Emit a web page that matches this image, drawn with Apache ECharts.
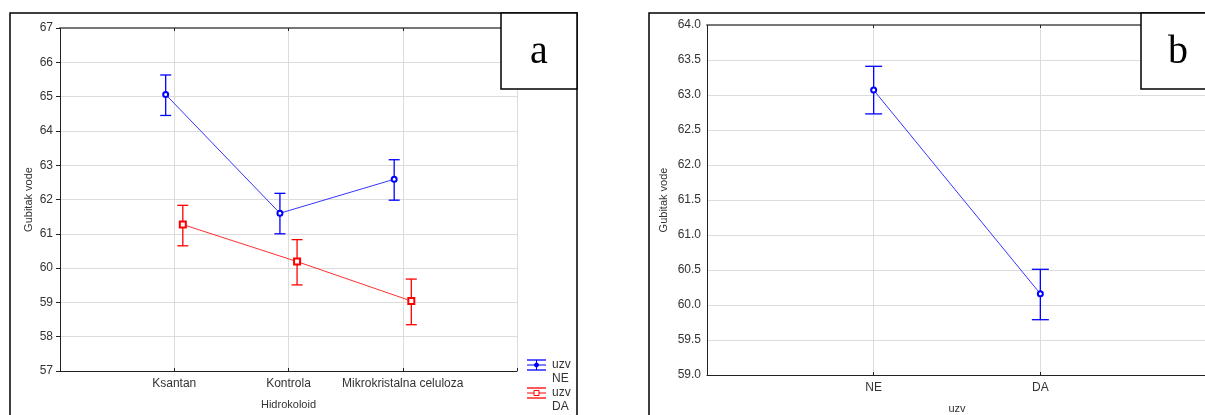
<!DOCTYPE html>
<html>
<head>
<meta charset="utf-8">
<script src="https://cdn.jsdelivr.net/npm/echarts@6/dist/echarts.min.js"></script>
<style>
  html, body { margin: 0; padding: 0; background: #fff; }
  #chart { width: 1205px; height: 415px; }
</style>
</head>
<body>
<div id="chart"></div>
<script>
// panel a: Gubitak vode by Hidrokoloid, split by uzv
const hidroCats = ['Ksantan', 'Kontrola', 'Mikrokristalna celuloza'];
const neMean = [65.06, 61.60, 62.59];
const neLow = [64.45, 61.00, 61.98];
const neHigh = [65.63, 62.18, 63.16];
const daMean = [61.27, 60.19, 59.04];
const daLow = [60.65, 59.51, 58.35];
const daHigh = [61.83, 60.83, 59.68];

// panel b: Gubitak vode by uzv
const uzvCats = ['NE', 'DA'];
const uzvMean = [63.07, 60.16];
const uzvLow = [62.73, 59.79];
const uzvHigh = [63.41, 60.51];

const FONT = "'Liberation Sans', Arial, sans-serif";
const BLUE = '#0000ff';
const RED = '#ff0000';
const shift = 0.075; // horizontal dodge of the two groups in panel a

function errorBars(xIdx, yIdx, xs, low, high, color, capW) {
  return {
    type: 'custom',
    xAxisIndex: xIdx,
    yAxisIndex: yIdx,
    data: xs.map((x, i) => [x, low[i], high[i]]),
    renderItem: function (params, api) {
      const top = api.coord([api.value(0), api.value(2)]);
      const bot = api.coord([api.value(0), api.value(1)]);
      const h = capW / 2;
      const st = { stroke: color, lineWidth: 1.3 };
      return {
        type: 'group',
        children: [
          { type: 'line', shape: { x1: top[0], y1: top[1], x2: bot[0], y2: bot[1] }, style: st },
          { type: 'line', shape: { x1: top[0] - h, y1: top[1], x2: top[0] + h, y2: top[1] }, style: st },
          { type: 'line', shape: { x1: bot[0] - h, y1: bot[1], x2: bot[0] + h, y2: bot[1] }, style: st }
        ]
      };
    },
    z: 3
  };
}

const chart = echarts.init(document.getElementById('chart'));

const labelStyle = { color: '#333', fontSize: 12, fontFamily: FONT };
const nameStyle = { color: '#333', fontSize: 11, fontFamily: FONT };
const gridLine = { show: true, lineStyle: { color: '#dcdcdc', width: 1 } };
const darkLine = { show: true, lineStyle: { color: '#222', width: 1 } };
const topLine = { show: true, lineStyle: { color: '#777', width: 2 } };
const inTick = { show: true, inside: true, length: 3, lineStyle: { color: '#222' } };

const xsA = hidroCats.map((c, i) => i + 1);
const xsB = uzvCats.map((c, i) => i + 1);

const option = {
  animation: false,
  backgroundColor: '#fff',
  grid: [
    { left: 60, top: 28, width: 457, height: 343, outerBoundsMode: 'none' },
    { left: 707, top: 25, width: 500, height: 350, outerBoundsMode: 'none' }
  ],
  xAxis: [
    {
      gridIndex: 0, type: 'value', min: 0, max: 4, interval: 1, position: 'bottom',
      axisLine: darkLine, axisTick: inTick,
      axisLabel: Object.assign({ margin: 7, formatter: v => hidroCats[v - 1] || '' }, labelStyle),
      splitLine: gridLine,
      name: 'Hidrokoloid', nameLocation: 'middle', nameGap: 28, nameTextStyle: nameStyle
    },
    {
      gridIndex: 0, type: 'value', min: 0, max: 4, interval: 1, position: 'top',
      axisLine: topLine, axisTick: inTick,
      axisLabel: { show: false }, splitLine: { show: false }
    },
    {
      gridIndex: 1, type: 'value', min: 0, max: 3, interval: 1, position: 'bottom',
      axisLine: darkLine, axisTick: inTick,
      axisLabel: Object.assign({ margin: 7, formatter: v => uzvCats[v - 1] || '' }, labelStyle),
      splitLine: gridLine,
      name: 'uzv', nameLocation: 'middle', nameGap: 28, nameTextStyle: nameStyle
    },
    {
      gridIndex: 1, type: 'value', min: 0, max: 3, interval: 1, position: 'top',
      axisLine: topLine, axisTick: inTick,
      axisLabel: { show: false }, splitLine: { show: false }
    }
  ],
  yAxis: [
    {
      gridIndex: 0, type: 'value', min: 57, max: 67, interval: 1, position: 'left',
      axisLine: darkLine, axisTick: { show: false },
      axisLabel: Object.assign({ margin: 7 }, labelStyle),
      splitLine: gridLine,
      name: 'Gubitak vode', nameLocation: 'middle', nameGap: 26, nameRotate: 90, nameTextStyle: nameStyle
    },
    {
      gridIndex: 0, type: 'value', min: 57, max: 67, interval: 1, position: 'right',
      axisLine: darkLine,
      axisTick: { show: true, inside: true, length: 4, lineStyle: { color: '#222' } },
      axisLabel: { show: false }, splitLine: { show: false }
    },
    {
      gridIndex: 1, type: 'value', min: 59, max: 64, interval: 0.5, position: 'left',
      axisLine: darkLine, axisTick: { show: false },
      axisLabel: Object.assign({ margin: 6, formatter: v => v.toFixed(1) }, labelStyle),
      splitLine: gridLine,
      name: 'Gubitak vode', nameLocation: 'middle', nameGap: 38, nameRotate: 90, nameTextStyle: nameStyle
    }
  ],
  series: [
    {
      name: 'NE', type: 'line', xAxisIndex: 0, yAxisIndex: 0,
      data: xsA.map((x, i) => [x - shift, neMean[i]]),
      symbol: 'emptyCircle', symbolSize: 5,
      lineStyle: { color: '#3535ff', width: 1 },
      itemStyle: { color: BLUE, borderWidth: 1 }, z: 4
    },
    errorBars(0, 0, xsA.map(x => x - shift), neLow, neHigh, BLUE, 11),
    {
      name: 'DA', type: 'line', xAxisIndex: 0, yAxisIndex: 0,
      data: xsA.map((x, i) => [x + shift, daMean[i]]),
      symbol: 'emptyRect', symbolSize: 6,
      lineStyle: { color: '#ff3030', width: 1 },
      itemStyle: { color: RED, borderWidth: 1 }, z: 4
    },
    errorBars(0, 0, xsA.map(x => x + shift), daLow, daHigh, RED, 11),
    {
      name: 'uzv', type: 'line', xAxisIndex: 2, yAxisIndex: 2,
      data: xsB.map((x, i) => [x, uzvMean[i]]),
      symbol: 'emptyCircle', symbolSize: 5,
      lineStyle: { color: '#3535ff', width: 1 },
      itemStyle: { color: BLUE, borderWidth: 1 }, z: 4
    },
    errorBars(2, 2, xsB, uzvLow, uzvHigh, BLUE, 17)
  ],
  graphic: [
    // panel frames
    { type: 'rect', shape: { x: 10, y: 13, width: 567, height: 430 }, style: { fill: 'none', stroke: '#000', lineWidth: 1.5 }, z: 10 },
    { type: 'rect', shape: { x: 649, y: 13, width: 600, height: 430 }, style: { fill: 'none', stroke: '#000', lineWidth: 1.5 }, z: 10 },
    // panel labels
    { type: 'rect', shape: { x: 501, y: 13, width: 76, height: 76 }, style: { fill: '#fff', stroke: '#000', lineWidth: 1.5 }, z: 11 },
    { type: 'text', x: 539, y: 52, style: { text: 'a', font: "40px 'Liberation Serif', 'Times New Roman', serif", fill: '#000', align: 'center', verticalAlign: 'middle' }, z: 12 },
    { type: 'rect', shape: { x: 1141, y: 13, width: 80, height: 76 }, style: { fill: '#fff', stroke: '#000', lineWidth: 1.5 }, z: 11 },
    { type: 'text', x: 1178, y: 52, style: { text: 'b', font: "40px 'Liberation Serif', 'Times New Roman', serif", fill: '#000', align: 'center', verticalAlign: 'middle' }, z: 12 },
    // legend of panel a
    { type: 'line', shape: { x1: 527, y1: 360, x2: 546, y2: 360 }, style: { stroke: BLUE, lineWidth: 1.3 }, z: 12 },
    { type: 'line', shape: { x1: 527, y1: 365, x2: 546, y2: 365 }, style: { stroke: BLUE, lineWidth: 1 }, z: 12 },
    { type: 'line', shape: { x1: 527, y1: 370, x2: 546, y2: 370 }, style: { stroke: BLUE, lineWidth: 1.3 }, z: 12 },
    { type: 'line', shape: { x1: 536.5, y1: 360, x2: 536.5, y2: 370 }, style: { stroke: BLUE, lineWidth: 1 }, z: 12 },
    { type: 'circle', shape: { cx: 536.5, cy: 365, r: 2 }, style: { fill: BLUE, stroke: BLUE }, z: 12 },
    { type: 'text', x: 552, y: 365, style: { text: 'uzv', font: '12px ' + FONT, fill: '#333', verticalAlign: 'middle' }, z: 12 },
    { type: 'text', x: 552, y: 379, style: { text: 'NE', font: '12px ' + FONT, fill: '#333', verticalAlign: 'middle' }, z: 12 },
    { type: 'line', shape: { x1: 527, y1: 388, x2: 546, y2: 388 }, style: { stroke: RED, lineWidth: 1.3 }, z: 12 },
    { type: 'line', shape: { x1: 527, y1: 393, x2: 546, y2: 393 }, style: { stroke: RED, lineWidth: 1 }, z: 12 },
    { type: 'line', shape: { x1: 527, y1: 398, x2: 546, y2: 398 }, style: { stroke: RED, lineWidth: 1.3 }, z: 12 },
    { type: 'rect', shape: { x: 534, y: 390.5, width: 5, height: 5 }, style: { fill: '#fff', stroke: RED, lineWidth: 1 }, z: 12 },
    { type: 'text', x: 552, y: 393, style: { text: 'uzv', font: '12px ' + FONT, fill: '#333', verticalAlign: 'middle' }, z: 12 },
    { type: 'text', x: 552, y: 407, style: { text: 'DA', font: '12px ' + FONT, fill: '#333', verticalAlign: 'middle' }, z: 12 }
  ]
};

chart.setOption(option);
</script>
</body>
</html>
